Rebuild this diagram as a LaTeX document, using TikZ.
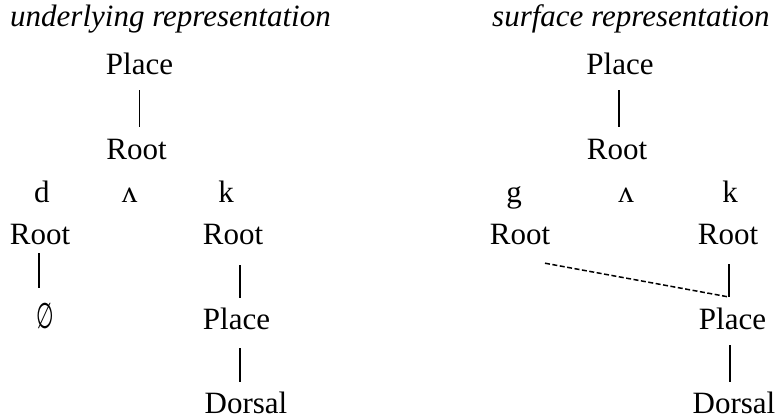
\documentclass[tikz,border=0pt]{standalone}
\usepackage{fontspec}
\setmainfont{Liberation Serif}
\newfontfamily\symfont{DejaVu Sans}
\begin{document}
\begin{tikzpicture}[x=1pt,y=-1pt,
  lbl/.style={font=\fontsize{31}{37}\selectfont, inner sep=0pt,
              text height=22pt, text depth=2pt, anchor=base},
  ttl/.style={font=\fontsize{31}{37}\selectfont\itshape, inner sep=0pt, anchor=base west},
  branch/.style={line width=1.5pt},
  spread/.style={line width=1.5pt, dash pattern=on 5pt off 2.5pt}]
\useasboundingbox (0,0) rectangle (780,420);

% titles
\node[ttl] (tl) at (10,27) {underlying representation};
\node[ttl] (tr) at (492,27) {surface representation};

% ---- underlying tree ----
\node[lbl] (upl) at (139.5,75) {Place};
\node[lbl] (urt) at (136.5,160) {Root};
\node[lbl] (ud) at (42,202) {d};
\node[lbl] (uv) at (129.5,202) {ʌ};
\node[lbl] (uk) at (226,202) {k};
\node[lbl] (urd) at (40,244) {Root};
\node[lbl] (urk) at (233,244) {Root};
\node[lbl] (unull) at (45,328) {\scalebox{0.65}[1.15]{\symfont ∅}};
\node[lbl] (upk) at (236.5,329) {Place};
\node[lbl] (udk) at (246,413) {Dorsal};

\draw[branch, shorten <=13pt, shorten >=11pt] (upl.south) -- (upl.south |- urt.north);
\draw[branch, shorten <=7pt, shorten >=18pt] ([xshift=-1pt]urd.south) -- ([xshift=-1pt]urd.south |- unull.north);
\draw[branch, shorten <=19pt, shorten >=9pt] ([xshift=7pt]urk.south) -- ([xshift=7pt]urk.south |- upk.north);
\draw[branch, shorten <=17pt, shorten >=9pt] ([xshift=3.5pt]upk.south) -- ([xshift=3.5pt]upk.south |- udk.north);

% ---- surface tree ----
\node[lbl] (spl) at (620,75) {Place};
\node[lbl] (srt) at (617,160) {Root};
\node[lbl] (sg) at (514,202) {g};
\node[lbl] (sv) at (626,202) {ʌ};
\node[lbl] (sk) at (730,202) {k};
\node[lbl] (srg) at (520,244) {Root};
\node[lbl] (srk) at (728,244) {Root};
\node[lbl] (spk) at (732.5,329) {Place};
\node[lbl] (sdk) at (734,413) {Dorsal};
\coordinate (junc) at (729,297);

\draw[branch, shorten <=13pt, shorten >=11pt] ([xshift=-1pt]spl.south) -- ([xshift=-1pt]spl.south |- srt.north);
\draw[branch, shorten <=18pt] (srk.south -| junc) -- (junc);
\draw[spread] ([xshift=25pt,yshift=-17pt]srg.south) -- (junc);
\draw[branch, shorten <=14pt, shorten >=9pt] ([xshift=-2.5pt]spk.south) -- ([xshift=-2.5pt]spk.south |- sdk.north);
\end{tikzpicture}
\end{document}
